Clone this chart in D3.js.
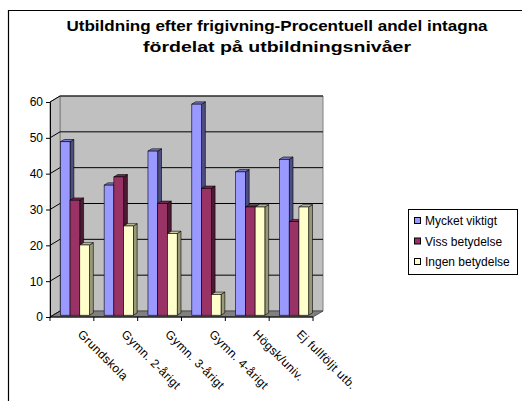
<!DOCTYPE html>
<html>
<head>
<meta charset="utf-8">
<script src="https://cdn.jsdelivr.net/npm/d3@7/dist/d3.min.js"></script>
<style>
  html, body { margin: 0; padding: 0; background: #fff; }
  svg { display: block; font-family: "Liberation Sans", Arial, sans-serif; }
</style>
</head>
<body>
<svg id="chart" width="522" height="401"></svg>
<script>
// Utbildningsnivåer och andel intagna (%) per bedömning
const categories = ["Grundskola", "Gymn. 2-årigt", "Gymn. 3-årigt", "Gymn. 4-årigt", "Högsk/univ.", "Ej fullföljt utb."];
const seriesNames = ["Mycket viktigt", "Viss betydelse", "Ingen betydelse"];
const mycketViktigt = [48.4, 36.3, 45.8, 58.9, 40.0, 43.5];
const vissBetydelse = [32.1, 38.6, 31.2, 35.4, 30.2, 26.1];
const ingenBetydelse = [19.6, 24.9, 22.8, 5.8, 30.2, 30.2];
const yTicks = [0, 10, 20, 30, 40, 50, 60];
const titleLines = ["Utbildning efter frigivning-Procentuell andel intagna", "fördelat på utbildningsnivåer"];

const seriesValues = [mycketViktigt, vissBetydelse, ingenBetydelse];
const faceColors = ["#9999FF", "#993366", "#FFFFCC"];
const topColors = ["#7A7ACC", "#7A2952", "#CCCCA3"];
const sideColors = ["#4D4D80", "#4D1A33", "#999979"];

const svg = d3.select("#chart");

// Outer chart frame (continues past the right and bottom edges)
svg.append("path")
  .attr("d", "M8.5,401 V10.5 H522")
  .attr("fill", "none").attr("stroke", "#000").attr("stroke-width", 1.2);

// Title, stretched to the chart's wide lettering
const titleWidths = [421, 268];
svg.append("g").selectAll("text").data(titleLines).join("text")
  .attr("x", 277).attr("y", (d, i) => 31 + i * 20.5)
  .attr("text-anchor", "middle")
  .attr("font-size", "14px").attr("font-weight", "bold")
  .attr("textLength", (d, i) => titleWidths[i])
  .attr("lengthAdjust", "spacingAndGlyphs")
  .attr("fill", "#000")
  .text(d => d);

// Plot geometry: front plane plus a depth offset towards the back wall
const x0 = d3.scaleBand().domain(categories).range([50, 313]).paddingInner(0).paddingOuter(0);
const y = d3.scaleLinear().domain([0, 60]).range([317, 102]);
const DX = 10, DY = -6;

const groupW = x0.bandwidth() * 3 / 4.5;
const x1 = d3.scaleBand().domain(seriesNames).range([0, groupW]);

const plot = svg.append("g");
const xL = x0.range()[0], xR = x0.range()[1];
const yB = y(0), yT = y(60);

// Back wall
plot.append("path")
  .attr("d", `M${xL + DX},${yT + DY} H${xR + DX} V${yB + DY} H${xL + DX} Z`)
  .attr("fill", "#C0C0C0").attr("stroke", "#808080").attr("stroke-width", 1);
// Left side wall
plot.append("path")
  .attr("d", `M${xL},${yT} L${xL + DX},${yT + DY} V${yB + DY} L${xL},${yB} Z`)
  .attr("fill", "#C0C0C0").attr("stroke", "#808080").attr("stroke-width", 1);
// Floor
plot.append("path")
  .attr("d", `M${xL},${yB} L${xL + DX},${yB + DY} H${xR + DX} L${xR},${yB} Z`)
  .attr("fill", "#808080").attr("stroke", "#404040").attr("stroke-width", 0.8);

// Gridlines on the side and back walls
const grid = plot.append("g");
grid.selectAll("path").data(yTicks.filter(t => t > 0)).join("path")
  .attr("d", t => `M${xL},${y(t)} L${xL + DX},${y(t) + DY} H${xR + DX}`)
  .attr("fill", "none").attr("stroke", "#000").attr("stroke-width", 1);
// Floor slant at zero on the side wall
plot.append("path")
  .attr("d", `M${xL},${yB} L${xL + DX},${yB + DY}`)
  .attr("stroke", "#000").attr("stroke-width", 0.8);

// 3D columns
const F0 = 0.3, F1 = 0.68;   // depth fractions of the column's front and back faces
const fx = DX * F0, fy = DY * F0, bx = DX * F1, by = DY * F1;
const bars = plot.append("g");
seriesNames.forEach((name, si) => {
  const g = bars.append("g");
  const data = categories.map((c, ci) => ({ c, v: seriesValues[si][ci] }));
  const xs = d => x0(d.c) + (x0.bandwidth() - groupW) / 2 + x1(name) + fx;
  const w = x1.bandwidth();
  // side face
  g.selectAll("path.side").data(data).join("path").attr("class", "side")
    .attr("d", d => {
      const xa = xs(d) + w, yt = y(d.v) + fy, yb = yB + fy;
      return `M${xa},${yt} L${xa + bx - fx},${yt + by - fy} V${yb + by - fy} L${xa},${yb} Z`;
    })
    .attr("fill", sideColors[si]).attr("stroke", "#000").attr("stroke-width", 0.6);
  // top face
  g.selectAll("path.top").data(data).join("path").attr("class", "top")
    .attr("d", d => {
      const xa = xs(d), yt = y(d.v) + fy;
      return `M${xa},${yt} L${xa + bx - fx},${yt + by - fy} H${xa + w + bx - fx} L${xa + w},${yt} Z`;
    })
    .attr("fill", topColors[si]).attr("stroke", "#000").attr("stroke-width", 0.6);
  // front face
  g.selectAll("rect").data(data).join("rect")
    .attr("x", xs).attr("y", d => y(d.v) + fy)
    .attr("width", w).attr("height", d => yB - y(d.v))
    .attr("fill", faceColors[si]).attr("stroke", "#000").attr("stroke-width", 0.6);
});

// Y axis
const yAxis = plot.append("g").attr("transform", `translate(${xL},0)`)
  .call(d3.axisLeft(y).tickValues(yTicks).tickSize(4).tickPadding(3).tickFormat(d3.format("d")));
yAxis.select(".domain").attr("stroke", "#000");
yAxis.selectAll("line").attr("stroke", "#000");
yAxis.selectAll("text").attr("font-size", "12px").attr("fill", "#000")
  .attr("font-family", "'Liberation Sans', Arial, sans-serif");

// X axis (front floor edge with category boundary ticks)
const bounds = categories.map(c => x0(c)).concat([xR]);
plot.append("path").attr("d", `M${xL},${yB} H${xR}`).attr("stroke", "#000").attr("stroke-width", 1);
plot.append("g").selectAll("line").data(bounds).join("line")
  .attr("x1", d => d).attr("x2", d => d).attr("y1", yB).attr("y2", yB + 4)
  .attr("stroke", "#000");

// Rotated category labels
plot.append("g").selectAll("text").data(categories).join("text")
  .attr("transform", c => `translate(${x0(c) + x0.bandwidth() / 2 + 8},${yB + 15}) rotate(45)`)
  .attr("dy", "0.35em")
  .attr("font-size", "12px").attr("letter-spacing", "0.4px").attr("fill", "#000")
  .text(c => c);

// Legend
const legend = svg.append("g");
legend.append("rect").attr("x", 408.5).attr("y", 209.5).attr("width", 109).attr("height", 65)
  .attr("fill", "#fff").attr("stroke", "#000").attr("stroke-width", 1);
const items = legend.selectAll("g").data(seriesNames).join("g")
  .attr("transform", (d, i) => `translate(414,${221 + i * 20.5})`);
items.append("rect").attr("x", 0.5).attr("y", -3.5).attr("width", 6).attr("height", 6)
  .attr("fill", (d, i) => faceColors[i]).attr("stroke", "#000").attr("stroke-width", 1);
items.append("text").attr("x", 11).attr("dy", "0.35em")
  .attr("font-size", "12px").attr("fill", "#000")
  .text(d => d);
</script>
</body>
</html>
